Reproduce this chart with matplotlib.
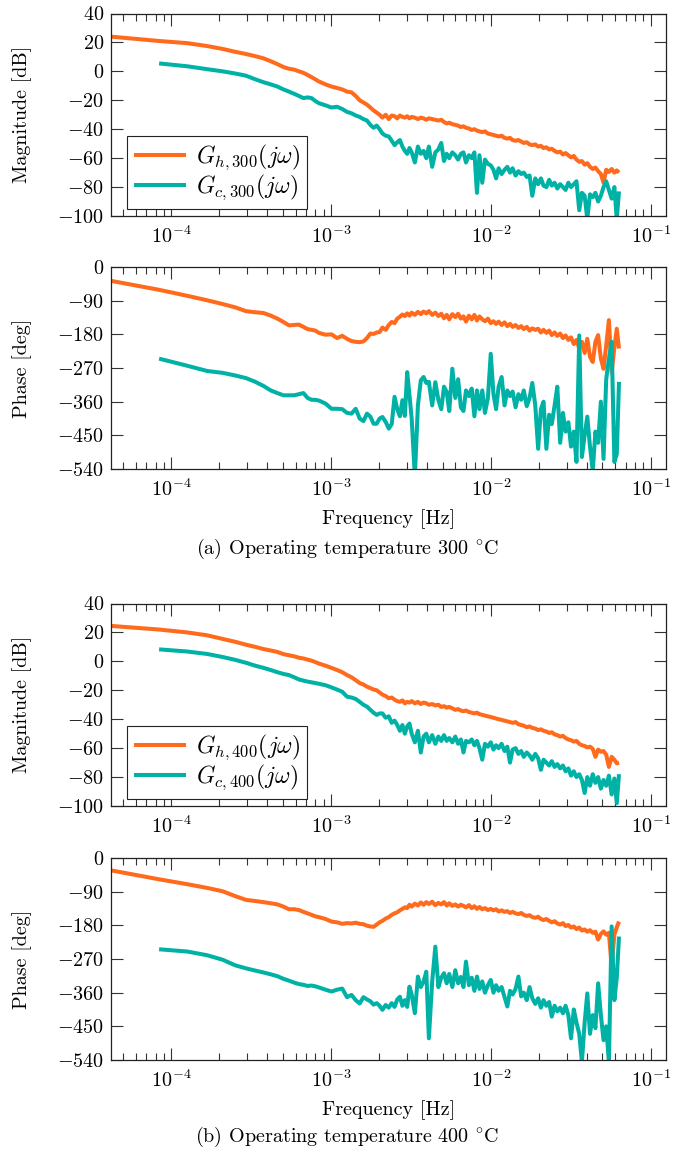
import matplotlib
matplotlib.use("Agg")
import matplotlib.pyplot as plt
import numpy as np
from matplotlib.ticker import LogLocator, NullFormatter, FixedLocator

plt.rcParams["font.family"] = "cmr10"
plt.rcParams["mathtext.fontset"] = "cm"
plt.rcParams["axes.formatter.use_mathtext"] = True
plt.rcParams["axes.unicode_minus"] = True

ORANGE = "#ff6a1c"
TEAL = "#00b2a6"
FS = 14.5

# frequency grid in mHz (teal series start at the second bin)
FREQ_MHZ = [
    0.042, 0.084, 0.126, 0.168, 0.210, 0.252, 0.294, 0.336, 0.378, 0.420,
    0.462, 0.504, 0.546, 0.588, 0.630, 0.672, 0.714, 0.756, 0.798, 0.840,
    0.924, 1.008, 1.092, 1.176, 1.260, 1.344, 1.428, 1.512, 1.596, 1.680,
    1.764, 1.848, 1.932, 2.016,
    2.1, 2.2, 2.3, 2.4, 2.5, 2.6, 2.7, 2.8, 2.9, 3.0,
    3.1, 3.2, 3.35, 3.5, 3.65, 3.8, 3.95, 4.1, 4.3, 4.5,
    4.7, 4.9, 5.1, 5.3, 5.5, 5.75, 6.0, 6.25, 6.5, 6.75,
    7.0, 7.3, 7.6, 7.9, 8.2, 8.5, 8.85, 9.2, 9.6, 10.0,
    10.4, 10.8, 11.2, 11.7, 12.2, 12.7, 13.2, 13.7, 14.3, 14.9,
    15.5, 16.1, 16.8, 17.5, 18.2, 19.0, 19.8, 20.6, 21.4, 22.3,
    23.2, 24.1, 25.1, 26.1, 27.2, 28.3, 29.4, 30.6, 31.8, 33.1,
    34.4, 35.8, 37.2, 38.7, 40.2, 41.8, 43.5, 45.2, 47.0, 48.9,
    50.8, 52.8, 54.9, 57.1, 59.4, 61.5, 63.5,
]

# ---- 300 C ----
H300_MAG = [
    24, 21, 19.5, 17.5, 15.5, 13.5, 12, 10.5, 9, 7,
    5, 3, 1.8, 1.2, 0, -1, -2.5, -4, -5.5, -7,
    -9, -10.5, -11.5, -12.5, -14, -14.5, -17, -20, -21.5, -23,
    -25, -27, -28.5, -30,
    -32, -30, -33, -30.5, -31, -32.5, -30.5, -31.5, -32, -31,
    -32.5, -31.5, -32, -33, -32, -32.5, -33.5, -32.5, -33, -33.5,
    -34, -33.5, -35, -36, -35.5, -36.5, -37, -37.5, -38.5, -38,
    -39, -39.5, -40.5, -40, -41, -41.5, -42, -41.5, -43, -43.5,
    -44, -44.5, -45, -44.5, -46, -46.5, -46, -47.5, -48, -47.5,
    -48.5, -49.5, -49, -50.5, -51, -50.5, -52, -51.5, -53, -52.5,
    -54, -53.5, -55, -56, -55.5, -57.5, -56.5, -58, -59.5, -58.5,
    -61, -62.5, -62, -64.5, -63.5, -66, -67.5, -66.5, -69, -71,
    -77, -68, -69.5, -67.5, -70, -68.5, -70,
]
C300_MAG = [
    5.5, 3.5, 1.5, 0, -1.5, -3, -5.5, -7.5, -9,
    -10.5, -12.5, -14, -15.5, -17, -18.5, -18, -18.5, -20.5, -22,
    -23.5, -25, -24.5, -26, -28, -29, -30.5, -31.5, -33, -34,
    -37, -39, -37.5, -40,
    -43, -44.5, -45, -48, -51, -49, -47.5, -52, -55, -57,
    -53, -56, -63, -52, -57, -55, -60, -52, -66, -56,
    -54, -49.5, -62, -57, -60, -56, -58, -61, -57, -56,
    -63, -58, -60, -56, -84, -58, -77, -61, -64, -65,
    -68, -74, -67, -71, -68, -66, -70, -67, -72, -69,
    -71, -70, -73, -72, -86, -74, -78, -74, -79, -80,
    -75, -79, -77, -81, -78, -80, -82, -77, -80, -78,
    -76, -96, -84, -86, -102, -85, -87, -84, -90, -86,
    -80, -76, -82, -88, -80, -102, -83,
]
H300_PH = [
    -37, -61, -77, -89, -99, -108, -118, -121, -123, -130,
    -138, -147, -156, -155, -154, -160, -166, -168, -170, -176,
    -181, -180, -190, -184, -192, -198, -200, -201, -199, -190,
    -178, -179, -175, -174,
    -162, -168, -155, -147, -150, -138, -133, -127, -131, -124,
    -130, -122, -128, -120, -126, -119, -124, -118, -128, -122,
    -131, -125, -137, -128, -140, -126, -134, -125, -138, -132,
    -146, -130, -140, -128, -143, -132, -140, -145, -138, -150,
    -145, -152, -146, -155, -148, -158, -152, -160, -155, -163,
    -158, -166, -160, -170, -164, -168, -165, -175, -168, -176,
    -170, -182, -175, -184, -178, -190, -183, -195, -188, -206,
    -195, -218, -200, -230, -192, -240, -254, -200, -182, -245,
    -272, -210, -142, -282, -215, -165, -218,
]
C300_PH = [
    -245, -264, -278, -283, -290, -297, -307, -318, -330,
    -337, -343, -343, -343, -340, -337, -350, -355, -355, -357,
    -365, -379, -379, -380, -390, -392, -379, -405, -412, -392,
    -400, -419, -419, -405,
    -401, -414, -432, -420, -347, -380, -399, -356, -398, -281,
    -343, -405, -560, -370, -303, -294, -310, -307, -370, -308,
    -355, -380, -320, -334, -385, -272, -350, -300, -375, -385,
    -330, -345, -325, -399, -330, -380, -330, -390, -350, -232,
    -340, -380, -320, -294, -370, -330, -345, -333, -375, -340,
    -355, -330, -372, -350, -310, -370, -486, -380, -360, -486,
    -395, -420, -370, -320, -470, -390, -440, -415, -480, -440,
    -521, -183, -508, -450, -400, -480, -545, -440, -470, -360,
    -513, -300, -245, -200, -521, -500, -307,
]

# ---- 400 C ----
H400_MAG = [
    24.5, 22, 20, 18, 15.5, 13.5, 11.5, 10, 8.5, 7.5,
    6.5, 5, 4.2, 3.5, 2.5, 2, 1.2, 0.5, -0.5, -1.5,
    -3, -4.5, -6, -7.5, -9.5, -11, -13, -15, -16, -17.5,
    -18.5, -19.5, -20, -21.5,
    -23, -24, -25.5, -25, -26.5, -27.5, -28, -27, -29, -28,
    -28.5, -27.5, -29, -28, -29.5, -28.5, -29, -30, -29.5, -30.5,
    -30, -31.5, -31, -32, -31.5, -32.5, -33.5, -33, -34, -34.5,
    -34, -35, -35.5, -36, -35.5, -36.5, -37, -37.5, -38, -38.5,
    -39, -39.5, -40, -40.5, -41, -41.5, -42, -42.5, -42, -43.5,
    -44, -44.5, -45.5, -45, -46, -46.5, -47.5, -47, -48, -48.5,
    -49.5, -49, -50.5, -51, -52, -51.5, -53, -54, -54.5, -55.5,
    -55, -57, -58, -58.5, -59.5, -59, -60.5, -66, -61, -62.5,
    -62, -64.5, -73, -66, -68, -70.5, -70,
]
C400_MAG = [
    8.3, 6.8, 5.1, 3, 1, -1, -3, -4.5, -6,
    -7.5, -8.7, -9.5, -11, -12.5, -13.3, -14, -14.5, -15, -15.5,
    -16.5, -18, -19.5, -21, -24.4, -25, -26, -28, -30, -31.3,
    -33.5, -35.5, -37, -36,
    -36, -39, -38, -42.5, -41, -44, -48, -44, -50, -45,
    -43, -50, -56, -48, -63, -52, -50, -56, -51, -57,
    -52, -55, -51, -55, -53, -56, -52, -57, -54, -63,
    -55, -56, -54, -58, -55, -60, -68, -57, -59, -56,
    -61, -58, -60, -57, -62, -59, -70, -61, -60, -64,
    -62, -66, -63, -65, -68, -64, -67, -75, -68, -70,
    -72, -69, -73, -71, -74, -72, -76, -74, -79, -76,
    -80, -78, -82, -91, -80, -86, -78, -84, -80, -88,
    -82, -86, -79, -92, -81, -98, -78,
]
H400_PH = [
    -33, -57, -70, -80, -89, -102, -112, -115, -118, -121,
    -124, -130, -137, -137, -139, -144, -148, -152, -156, -158,
    -163, -170, -172, -176, -174, -175, -173, -176, -177, -181,
    -183, -184, -178, -172,
    -168, -162, -158, -152, -148, -145, -140, -136, -132, -134,
    -125, -130, -122, -127, -119, -125, -118, -123, -117, -126,
    -120, -124, -118, -127, -121, -128, -124, -130, -125, -128,
    -132, -126, -134, -129, -136, -131, -137, -134, -139, -136,
    -140, -137, -143, -140, -144, -142, -147, -144, -148, -150,
    -147, -152, -155, -153, -158, -160, -157, -163, -166, -163,
    -168, -172, -169, -175, -178, -174, -182, -179, -186, -183,
    -190, -186, -194, -191, -197, -193, -200, -197, -218, -203,
    -196, -205, -200, -290, -205, -185, -170,
]
C400_PH = [
    -244, -250, -260, -272, -287, -295, -301, -306, -311,
    -316, -323, -328, -333, -337, -339, -342, -341, -343, -346,
    -352, -357, -352, -349, -372, -366, -380, -389, -372, -378,
    -383, -392, -388, -395,
    -406, -393, -400, -388, -398, -378, -371, -395, -380, -398,
    -344, -365, -415, -317, -345, -330, -304, -482, -330, -237,
    -345, -320, -308, -335, -310, -345, -300, -335, -318, -345,
    -277, -340, -320, -355, -317, -350, -330, -360, -340, -326,
    -360, -340, -355, -345, -372, -397, -355, -365, -350, -317,
    -370, -360, -380, -345, -375, -390, -375, -400, -380, -395,
    -385, -424, -395, -410, -400, -415, -395, -420, -482, -405,
    -440, -470, -545, -440, -362, -470, -420, -455, -335, -420,
    -487, -450, -545, -183, -380, -320, -210,
]

MAG_TICKS = [40, 20, 0, -20, -40, -60, -80, -100]
PHASE_TICKS = [0, -90, -180, -270, -360, -450, -540]

freq = np.array(FREQ_MHZ) * 1e-3
freq_c = freq[1:]

fig = plt.figure(figsize=(6.99, 11.59), dpi=100)
W, H = 699.0, 1159.0
AX_L, AX_R = 111.0, 666.0


def make_axes(top, bottom):
    return fig.add_axes([AX_L / W, 1 - bottom / H, (AX_R - AX_L) / W, (bottom - top) / H])


def style(ax, yticks, ylabel):
    ax.set_xscale("log")
    ax.set_xlim(4.2e-5, 0.125)
    ax.set_ylim(yticks[-1], yticks[0])
    ax.yaxis.set_major_locator(FixedLocator(yticks))
    ax.xaxis.set_major_locator(LogLocator(base=10, numticks=10))
    ax.xaxis.set_minor_locator(LogLocator(base=10, subs=np.arange(2, 10), numticks=20))
    ax.xaxis.set_minor_formatter(NullFormatter())
    ax.tick_params(which="both", direction="in", top=True, right=True,
                   labelsize=FS, color="#333333", width=0.8)
    ax.tick_params(which="major", length=8.5)
    ax.tick_params(which="minor", length=5)
    ax.tick_params(axis="x", pad=7)
    ax.tick_params(axis="y", pad=5)
    for s in ax.spines.values():
        s.set_linewidth(0.9)
        s.set_color("#222222")
    ax.set_ylabel(ylabel, fontsize=FS)
    ax.yaxis.set_label_coords(-0.142, 0.5)


def draw_pair(y_top_mag, y_top_ph, mag_h, mag_c, ph_h, ph_c, temp):
    kw = dict(lw=2.9, solid_joinstyle="round", solid_capstyle="butt")
    ax1 = make_axes(y_top_mag, y_top_mag + 202.5)
    ax1.plot(freq, mag_h, color=ORANGE, label=r"$G_{h,%d}(j\omega)$" % temp, **kw)
    ax1.plot(freq_c, mag_c, color=TEAL, label=r"$G_{c,%d}(j\omega)$" % temp, **kw)
    style(ax1, MAG_TICKS, "Magnitude [dB]")
    leg = ax1.legend(loc="lower left", bbox_to_anchor=(0.029, 0.035), borderaxespad=0,
                     fontsize=17, handlelength=2.2, handletextpad=0.45,
                     borderpad=0.28, labelspacing=0.02, fancybox=False,
                     framealpha=1, edgecolor="#222222")
    leg.get_frame().set_linewidth(0.8)

    ax2 = make_axes(y_top_ph, y_top_ph + 202)
    ax2.plot(freq, ph_h, color=ORANGE, **kw)
    ax2.plot(freq_c, ph_c, color=TEAL, **kw)
    style(ax2, PHASE_TICKS, "Phase [deg]")
    ax2.set_xlabel("Frequency [Hz]", fontsize=FS)
    ax2.xaxis.set_label_coords(0.5, -0.2)
    return ax1, ax2


draw_pair(13.5, 267, H300_MAG, C300_MAG, H300_PH, C300_PH, 300)
draw_pair(603.5, 858, H400_MAG, C400_MAG, H400_PH, C400_PH, 400)

fig.text(0.497, 1 - 549 / H, r"(a) Operating temperature 300 $^{\circ}\mathrm{C}$",
         ha="center", va="center", fontsize=FS)
fig.text(0.497, 1 - 1137 / H, r"(b) Operating temperature 400 $^{\circ}\mathrm{C}$",
         ha="center", va="center", fontsize=FS)

fig.savefig("out.png", dpi=100, facecolor="white")
